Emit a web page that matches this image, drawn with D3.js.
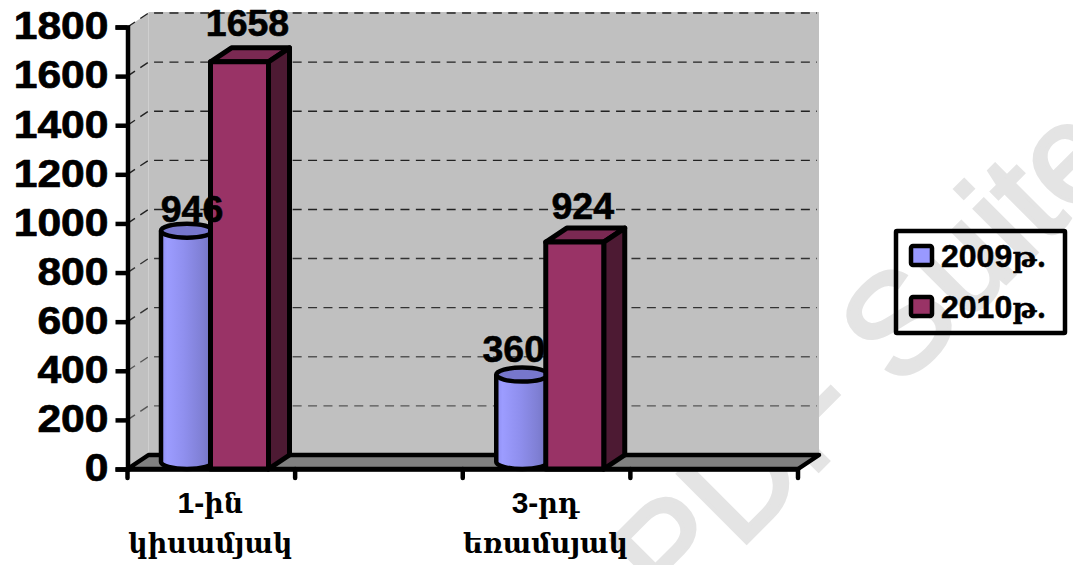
<!DOCTYPE html>
<html><head><meta charset="utf-8">
<script src="https://cdn.jsdelivr.net/npm/d3@7/dist/d3.min.js"></script>
<style>html,body{margin:0;padding:0;background:#fff}svg{display:block}</style></head>
<body><svg id="c" width="1073" height="565"></svg>
<script>
const categories = ["1-ին կիսամյակ", "Q2", "3-րդ եռամսյակ", "Q4"];
const categoryLines = [[["1-","ին"],["","կիսամյակ"]], [], [["3-","րդ"],["","եռամսյակ"]], []];
const seriesNames = ["2009թ.", "2010թ."];
const values2009 = [946, null, 360, null];
const values2010 = [1658, null, 924, null];
const yTicks = [0,200,400,600,800,1000,1200,1400,1600,1800];

const svg = d3.select("#c");
const SANS = "'Liberation Sans',Arial,sans-serif", SERIF = "'DejaVu Serif',serif";
const dx = 21, dy = 14;
const x = d3.scaleBand().domain(categories).range([127.5,798]);
const y = d3.scaleLinear().domain([0,1800]).range([469,27]);
const inner = d3.scalePoint().domain(seriesNames).range([33,83]);
const colors = d3.scaleOrdinal().domain(seriesNames).range(["#9999ff","#993366"]);

const defs = svg.append("defs");
const g = defs.append("linearGradient").attr("id","cyl");
[[0,"#8e8ef0"],[.12,"#9c9cff"],[.45,"#8f8fee"],[.8,"#7f7fd4"],[1,"#7272bf"]].forEach(s=>g.append("stop").attr("offset",s[0]).attr("stop-color",s[1]));

// watermark
svg.append("text").text("PDF Suite").attr("transform","translate(672,617) rotate(-45)")
  .attr("font-family","'Liberation Sans',sans-serif").attr("font-size",141).attr("fill","#e4e4e4")
  .attr("stroke","#e4e4e4").attr("stroke-width",4);

const x0 = x.range()[0], x1 = x.range()[1];
// wall + floor
svg.append("rect").attr("x",x0+dx).attr("y",y(1800)-dy-1).attr("width",x1-x0).attr("height",y(0)-y(1800)+1).attr("fill","#c0c0c0");
svg.append("path").attr("d",`M${x0},${y(1800)}L${x0+dx},${y(1800)-dy}V${y(0)-dy}L${x0},${y(0)}Z`).attr("fill","#c0c0c0");
svg.append("path").attr("d",`M${x0},${y(0)}L${x0+dx},${y(0)-dy}H${x1+dx}L${x1},${y(0)}Z`)
  .attr("fill","#808080").attr("stroke","#000").attr("stroke-width",4.5).attr("stroke-linejoin","round");

// gridlines
svg.append("g").selectAll("path").data(yTicks.filter(d=>d>0)).join("path")
  .attr("d",d=>`M${x0},${y(d)}L${x0+dx},${y(d)-dy}H${x1+dx-2}`)
  .attr("fill","none").attr("stroke",d=>d<=400?"#555":d<=800?"#333":"#222").attr("stroke-width",1.4).attr("stroke-dasharray","9 6.4");

// cylinders
const rx=26, ry=7, bw=58;
const cyl = svg.append("g").selectAll("g").data(categories.map((c,i)=>({c,v:values2009[i]})).filter(d=>d.v!=null)).join("g");
cyl.each(function(d){
  const s=d3.select(this), l=x(d.c)+inner(seriesNames[0])+.5, r=l+2*rx, t=y(d.v)-6, b=y(0)-7;
  s.append("path").attr("d",`M${l},${t}V${b}A${rx},${ry} 0 0 0 ${r},${b}V${t}Z`).attr("fill","url(#cyl)");
  s.append("path").attr("d",`M${l},${t}V${b}A${rx},${ry} 0 0 0 ${r},${b}V${t}`).attr("fill","none").attr("stroke","#000").attr("stroke-width",4.5);
  s.append("ellipse").attr("cx",l+rx).attr("cy",t).attr("rx",rx).attr("ry",ry).attr("fill","#7777cc").attr("stroke","#000").attr("stroke-width",4.5);
});

// boxes
const bars = svg.append("g").selectAll("g").data(categories.map((c,i)=>({c,v:values2010[i]})).filter(d=>d.v!=null)).join("g")
  .attr("stroke","#000").attr("stroke-width",5).attr("stroke-linejoin","round");
bars.each(function(d){
  const s=d3.select(this), l=x(d.c)+inner(seriesNames[1]), r=l+bw, t=y(d.v), b=y(0);
  s.append("path").attr("d",`M${l},${t}L${l+dx},${t-dy}H${r+dx}L${r},${t}Z`).attr("fill","#7a2952");
  s.append("path").attr("d",`M${r},${t}L${r+dx},${t-dy}V${b-dy}L${r},${b}Z`).attr("fill","#4d1a33");
  s.append("rect").attr("x",l).attr("y",t).attr("width",bw).attr("height",b-t).attr("fill","#993366");
});

// axes
const yAxis = svg.append("g").attr("transform",`translate(${x0},0)`)
  .call(d3.axisLeft(y).tickValues(yTicks).tickSize(12).tickPadding(7).tickFormat(d3.format("d")));
yAxis.selectAll("path,line").attr("stroke","#000").attr("stroke-width",4.5);
yAxis.selectAll("text").attr("font-family",SANS).attr("font-weight",700).attr("font-size",38).attr("fill","#000")
  .attr("stroke","#000").attr("stroke-width",.7).attr("dy","0.31em")
  .attr("textLength",d=>String(d).length*23.7).attr("lengthAdjust","spacingAndGlyphs");

const xAxis = svg.append("g").attr("transform",`translate(0,${y(0)})`)
  .call(d3.axisBottom(x).tickValues([]).tickSize(0));
xAxis.select("path").attr("stroke","#000").attr("stroke-width",4.5);
xAxis.selectAll("line.t").data(categories.map(c=>x(c)).concat([x1])).join("line").attr("class","t")
  .attr("x1",d=>d).attr("x2",d=>d).attr("y1",0).attr("y2",9).attr("stroke","#000").attr("stroke-width",4.5).attr("stroke-linecap","round");

// category labels
categories.forEach((c,i)=>{
  categoryLines[i].forEach((parts,j)=>{
    const t = svg.append("text").attr("text-anchor","middle").attr("x",x(c)+x.bandwidth()/2-1).attr("y",y(0)+43.5+j*40)
      .attr("font-weight",700).attr("fill","#000");
    t.append("tspan").attr("font-family",SANS).attr("font-size",30).text(parts[0]);
    t.append("tspan").attr("font-family",SERIF).attr("font-size",27).text(parts[1]);
  });
});

// value labels
const labelShift2009 = [5.5, null, -8, null];
const labelRaise2009 = [15, null, 19, null];
const labelRaise2010 = [26, null, 23, null];
const vl = svg.append("g").attr("font-family",SANS).attr("font-weight",700).attr("font-size",37.5).attr("fill","#000")
  .attr("stroke","#000").attr("stroke-width",.6).attr("text-anchor","middle");
categories.forEach((c,i)=>{
  if(values2009[i]!=null) vl.append("text").attr("x",x(c)+inner(seriesNames[0])+26+labelShift2009[i]).attr("y",y(values2009[i])-labelRaise2009[i]).text(values2009[i]);
  if(values2010[i]!=null) vl.append("text").attr("x",x(c)+inner(seriesNames[1])+37).attr("y",y(values2010[i])-labelRaise2010[i]).text(values2010[i]);
});

// legend
const lg = svg.append("g");
lg.append("rect").attr("x",896).attr("y",231).attr("width",169).attr("height",102).attr("fill","none").attr("stroke","#000").attr("stroke-width",4.5).attr("rx",1);
seriesNames.forEach((n,i)=>{
  const yy = 256+i*51;
  lg.append("rect").attr("x",911).attr("y",yy-10).attr("width",21).attr("height",19).attr("rx",2).attr("fill",colors(n)).attr("stroke","#000").attr("stroke-width",4.5);
  const t = lg.append("text").attr("x",941).attr("y",yy+11).attr("font-weight",700).attr("fill","#000").attr("stroke","#000").attr("stroke-width",.5);
  t.append("tspan").attr("font-family",SANS).attr("font-size",32).text(n.slice(0,4));
  t.append("tspan").attr("font-family",SERIF).attr("font-size",27).text(n.slice(4));
});
</script></body></html>
